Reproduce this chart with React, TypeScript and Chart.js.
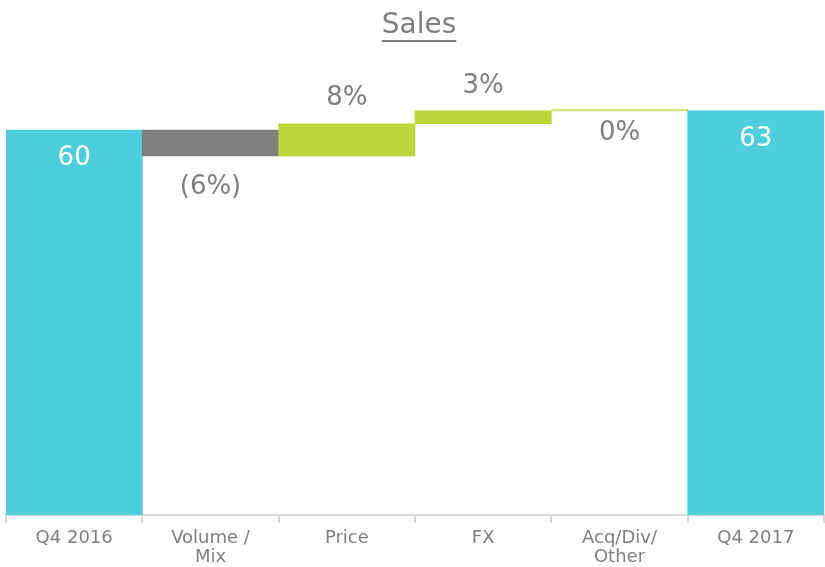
import React, { useEffect, useRef } from "react";
import { Chart, registerables } from "chart.js";

Chart.register(...registerables);

const categories: (string | string[])[] = ["Q4 2016", ["Volume /", "Mix"], "Price", "FX", ["Acq/Div/", "Other"], "Q4 2017"];
const barStarts = [0, 56, 56, 61, 63, 0];
const barEnds = [60, 60, 61, 63, 63, 63];
const barLabels = ["60", "(6%)", "8%", "3%", "0%", "63"];
const barKinds = ["total", "down", "up", "up", "zero", "total"];

const COLORS: Record<string, string> = {
  total: "#4ECDDE",
  down: "#7F7F7F",
  up: "#BDD73A",
  zero: "#D3E27A",
};
const FONT = "'DejaVu Sans', sans-serif";
const GREY = "#7F7F7F";

const labelPlugin = {
  id: "wfLabels",
  afterDatasetsDraw(chart: any) {
    const ctx = chart.ctx;
    const meta = chart.getDatasetMeta(0);
    ctx.save();
    ctx.textAlign = "center";
    ctx.textBaseline = "middle";
    meta.data.forEach((bar: any, i: number) => {
      const kind = barKinds[i];
      const top = Math.min(bar.y, bar.base);
      const bottom = Math.max(bar.y, bar.base);
      let y: number;
      let color = GREY;
      if (kind === "total") {
        y = top + 28;
        color = "#FFFFFF";
      } else if (kind === "down") {
        y = bottom + 31;
      } else if (kind === "zero") {
        y = bottom + 22;
      } else {
        y = top - 25;
      }
      ctx.font = `26px ${FONT}`;
      ctx.fillStyle = color;
      ctx.fillText(barLabels[i], bar.x, y);
    });
    ctx.restore();
  },
};

const titlePlugin = {
  id: "ulTitle",
  afterDraw(chart: any) {
    const ctx = chart.ctx;
    const text = "Sales";
    ctx.save();
    ctx.font = `28px ${FONT}`;
    ctx.fillStyle = GREY;
    ctx.textAlign = "center";
    ctx.textBaseline = "alphabetic";
    const cx = 419;
    ctx.fillText(text, cx, 33);
    const w = ctx.measureText(text).width;
    ctx.fillRect(cx - w / 2, 40, w, 2);
    ctx.restore();
  },
};

export default function App() {
  const ref = useRef<HTMLCanvasElement | null>(null);
  useEffect(() => {
    if (!ref.current) return;
    const chart = new Chart(ref.current, {
      type: "bar",
      data: {
        labels: categories as any,
        datasets: [
          {
            data: barStarts.map((s, i) => [s, barEnds[i]]) as any,
            backgroundColor: barKinds.map((k) => COLORS[k]),
            borderWidth: 0,
            minBarLength: 1.5,
            barPercentage: 1,
            categoryPercentage: 1,
          },
        ],
      },
      options: {
        animation: false,
        responsive: false,
        maintainAspectRatio: false,
        layout: { padding: { top: 66, left: 6, right: 1, bottom: 0 } },
        plugins: {
          legend: { display: false },
          title: { display: false },
          tooltip: { enabled: false },
        },
        scales: {
          x: {
            grid: {
              display: true,
              drawOnChartArea: false,
              offset: true,
              tickLength: 8,
              color: "#D9D9D9",
              lineWidth: 2,
            },
            border: { display: true, color: "#D9D9D9", width: 2 },
            ticks: {
              color: GREY,
              font: { family: FONT, size: 18, lineHeight: 1.05 },
              padding: 6,
              maxRotation: 0,
              autoSkip: false,
            },
            afterFit(scale: any) {
              scale.height = 52;
            },
          },
          y: {
            display: false,
            min: 0,
            max: 70,
          },
        },
      },
      plugins: [labelPlugin, titlePlugin],
    });
    return () => chart.destroy();
  }, []);
  return (
    <div style={{ position: "fixed", left: 0, top: 0, width: 825, height: 567, background: "#fff" }}>
      <canvas ref={ref} width={825} height={567} style={{ display: "block" }} />
    </div>
  );
}
